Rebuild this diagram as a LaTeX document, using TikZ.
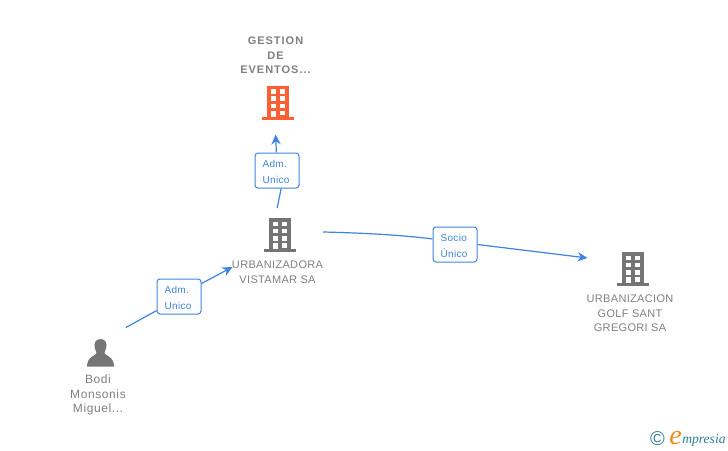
\documentclass[tikz,border=0pt]{standalone}
\usepackage{fontspec}
\setmainfont{Liberation Sans}
\newfontfamily\tagfont[LetterSpace=3]{Liberation Sans}
\newfontfamily\namefont[LetterSpace=3]{Liberation Sans}
\newfontfamily\personfont[LetterSpace=5]{Liberation Sans}
\newfontfamily\titlefont[LetterSpace=9,BoldFont={Liberation Sans Bold}]{Liberation Sans Bold}
\newfontfamily\logofont{Liberation Serif Italic}
\usetikzlibrary{arrows.meta}
\definecolor{txtgray}{HTML}{808080}
\definecolor{icongray}{HTML}{757575}
\definecolor{iconorange}{HTML}{FF5F33}
\definecolor{linkblue}{HTML}{3F83E0}
\definecolor{logoteal}{HTML}{2F7F93}
\definecolor{logoorange}{HTML}{F08A1D}
\tikzset{
  x=0.75pt,y=-0.75pt,
  link/.style={draw=linkblue,line width=0.9pt},
  linkarrow/.style={link,-{Stealth[length=7.5pt,width=7pt]}},
  tagbox/.style={draw=linkblue,line width=0.75pt,rounded corners=2.2pt,fill=white,
    minimum width=33pt,minimum height=26.25pt,inner sep=0pt,text=linkblue,
    text width=21.5pt,align=left,font=\tagfont\fontsize{7.5}{11.25}\selectfont},
  nametext/.style={text=txtgray,align=center,inner sep=0pt,font=\namefont\fontsize{8.25}{11}\selectfont},
  persontext/.style={text=txtgray,align=center,inner sep=0pt,font=\personfont\fontsize{9}{11}\selectfont},
  titletext/.style={text=txtgray,align=center,inner sep=0pt,font=\titlefont\fontsize{8.25}{11}\selectfont},
  pics/building/.style={code={
    \fill[#1] (-11,0) rectangle (11,31);
    \fill[#1] (-16,31) rectangle (16,34);
    \foreach \cx in {-7,2.2}{
      \foreach \cy in {3.5,10.8,18}{
        \fill[white] (\cx,\cy) rectangle ++(5,4.6);
      }
    }
    \fill[white] (-7,25) rectangle ++(5,6);
    \fill[white] (2.2,25) rectangle ++(5,4.5);
  }},
  pics/personicon/.style={code={
    \fill[icongray] (0,-14) .. controls (5.5,-14) and (6.6,-9) .. (5.8,-5.5)
      .. controls (5.4,-3) and (4,-1.5) .. (4,0) .. controls (4,2.5) and (13.5,3)
      .. (13.5,13.5) -- (-13.5,13.5) .. controls (-13.5,3) and (-4,2.5) .. (-4,0)
      .. controls (-4,-1.5) and (-5.4,-3) .. (-5.8,-5.5)
      .. controls (-6.6,-9) and (-5.5,-14) .. (0,-14) -- cycle;
  }}
}
\begin{document}
\begin{tikzpicture}
\useasboundingbox (0,0) rectangle (728,450);
\fill[white] (0,0) rectangle (728,450);

% entities
\node[titletext] (gestion) at (275.5,55.5) {GESTION\\DE\\EVENTOS...};
\coordinate (gestionicon) at (277.5,85.5);
\pic at (gestionicon) {building={iconorange}};
\node[nametext] (vistamar) at (277.5,272) {URBANIZADORA\\VISTAMAR SA};
\coordinate (vistamaricon) at (279.5,218);
\pic at (vistamaricon) {building={icongray}};
\node[nametext] (golf) at (630,313.5) {URBANIZACION\\GOLF SANT\\GREGORI SA};
\coordinate (golficon) at (632.5,252);
\pic at (golficon) {building={icongray}};
\node[persontext] (bodi) at (98,395) {Bodi\\Monsonis\\Miguel...};
\coordinate (bodiicon) at (100.5,353);
\pic at (bodiicon) {personicon};

% connector labels
\node[tagbox] (tagA) at (179,296.5) {\strut Adm.\\[0.5pt]Unico};
\node[tagbox] (tagB) at (277,170.5) {\strut Adm.\\[0.5pt]Unico};
\node[tagbox] (tagC) at (455,244.5) {\strut Socio\\[0.5pt]Único};

% connector ends
\coordinate (bodiout) at (126,327.5);
\coordinate (vistain) at (232.5,267);
\coordinate (vistaup) at (277.2,208);
\coordinate (gestionin) at (275.6,134.5);
\coordinate (vistaout) at (323,232);
\coordinate (golfin) at (587.5,258);

% connectors
\draw[link] (bodiout) -- (tagA.-148);
\draw[linkarrow] (tagA.30) -- (vistain);
\draw[link] (vistaup) -- (tagB.-77);
\draw[linkarrow] (tagB.92) -- (gestionin);
\draw[link] (vistaout) .. controls (365,233) and (400,235) .. (tagC.166);
\draw[linkarrow] (tagC.0) -- (golfin);

% logo
\node[inner sep=0pt,text=logoteal,font=\fontsize{15}{15}\selectfont] (copyr) at (657.5,438.5) {©};
\node[inner sep=0pt,anchor=base west,text=logoorange,font=\logofont\fontsize{21}{21}\selectfont] (logoe) at (669,444) {e};
\node[inner sep=0pt,anchor=base west,text=logoteal,font=\logofont\fontsize{10.2}{10.2}\selectfont] (logotxt) at (682,443.5) {mpresia};
\end{tikzpicture}
\end{document}
